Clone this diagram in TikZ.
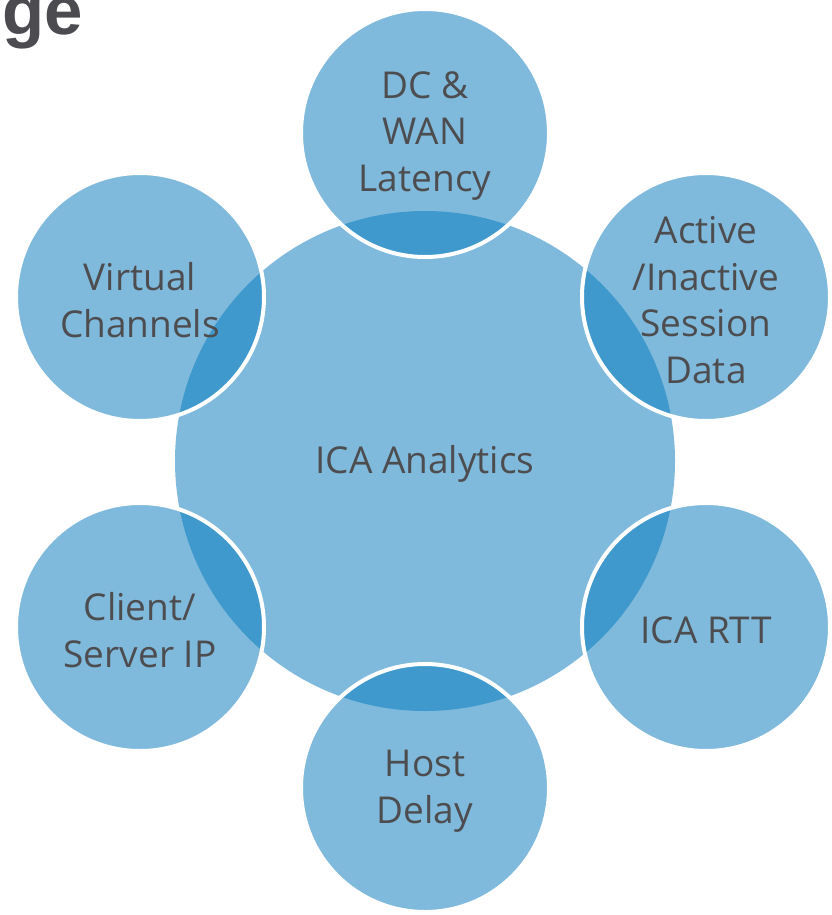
\documentclass[tikz,border=0pt]{standalone}
\usepackage{fontspec}
\setmainfont{Open Sans}
\newfontfamily\headfont{Liberation Sans}
\definecolor{lightblue}{HTML}{7FBADC}
\definecolor{darkblue}{HTML}{3F99CD}
\definecolor{txtgray}{HTML}{4D4D50}
\definecolor{headgray}{HTML}{4B4B50}
\begin{document}
\begin{tikzpicture}[x=1pt,y=-1pt,
  lbl/.style={text=txtgray,align=center,font=\fontsize{37}{46.5}\selectfont,yshift=-3pt},
  ring/.style={draw=white,line width=4pt}]
\useasboundingbox (0,0) rectangle (831,915);
\def\R{250}
\def\r{124}
% central circle
\fill[lightblue] (425,461) circle (\R);
\coordinate (cc) at (425,461);
% outer circle centres
\coordinate (c1) at (425,133);
\coordinate (c2) at (706,297);
\coordinate (c3) at (706,627);
\coordinate (c4) at (425,788);
\coordinate (c5) at (140,627);
\coordinate (c6) at (140,297);
\foreach \c in {c1,c2,c3,c4,c5,c6}{
  \fill[lightblue] (\c) circle (\r);
  \begin{scope}
    \clip (cc) circle (\R);
    \fill[darkblue] (\c) circle (\r);
  \end{scope}
  \draw[ring] (\c) circle (\r);
}
\node[lbl] (center) at (cc) {ICA Analytics};
\node[lbl] (n1) at (c1) {DC \&\\WAN\\Latency};
\node[lbl] (n2) at (c2) {Active\\/Inactive\\Session\\Data};
\node[lbl] (n3) at (c3) {ICA RTT};
\node[lbl] (n4) at (c4) {Host\\Delay};
\node[lbl] (n5) at (c5) {Client/\\Server IP};
\node[lbl] (n6) at (c6) {Virtual\\Channels};
\node[anchor=base west,inner sep=0pt,text=headgray,font=\headfont\bfseries\fontsize{69}{69}\selectfont] (head) at (2,35) {ge};
\end{tikzpicture}
\end{document}
